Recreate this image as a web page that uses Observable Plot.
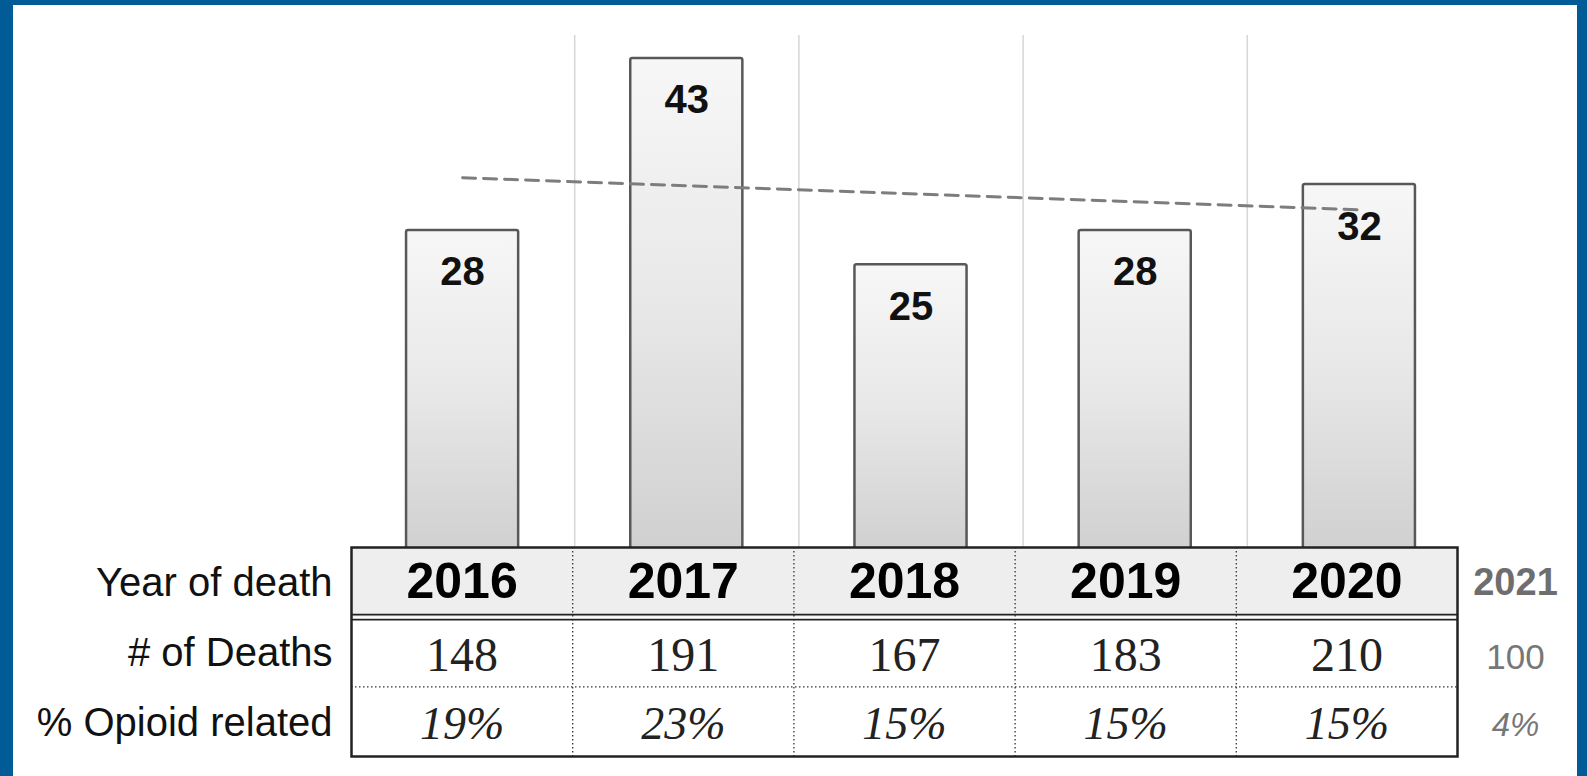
<!DOCTYPE html>
<html><head><meta charset="utf-8">
<script src="https://cdn.jsdelivr.net/npm/d3@7"></script>
<script src="https://cdn.jsdelivr.net/npm/@observablehq/plot@0.6"></script>
<style>
html,body{margin:0;padding:0;width:1587px;height:776px;overflow:hidden;background:#005b96;}
#panel{position:absolute;left:13px;top:5px;width:1564px;height:771px;background:#fff;}
#bars,#table{position:absolute;left:0;}
#bars{top:0;}
#table{top:547px;}
</style></head><body>
<div id="panel"></div>
<div id="bars"></div>
<div id="table"></div>
<script>
// ---- data ----
const years = [2016, 2017, 2018, 2019, 2020];
const opioidDeaths = [28, 43, 25, 28, 32];
const totalDeaths = [148, 191, 167, 183, 210];
const opioidPct = ["19%", "23%", "15%", "15%", "15%"];
const rowLabels = ["Year of death", "# of Deaths", "% Opioid related"];
const partialYear = "2021";
const partialDeaths = "100";
const partialPct = "4%";

const SANS = "'Liberation Sans', Arial, Helvetica, sans-serif";
const SERIF = "'Liberation Serif', 'Times New Roman', serif";

const data = years.map((year, i) => ({year, value: opioidDeaths[i]}));
const xDomain = [d3.min(years) - 0.5, d3.max(years) + 0.5];

// ---- bar chart ----
const bars = Plot.plot({
  width: 1587, height: 551,
  marginTop: 35, marginBottom: 0, marginLeft: 350, marginRight: 116,
  style: {background: "transparent", overflow: "visible"},
  x: {type: "linear", domain: xDomain, axis: null},
  y: {domain: [0, 45], axis: null},
  marks: [
    Plot.ruleX(years.slice(0, -1), {x: d => d + 0.5, stroke: "#d6d6d6", strokeWidth: 1.5}),
    Plot.rectY(data, {x1: d => d.year - 0.25, x2: d => d.year + 0.25, y: "value",
      fill: "url(#barGrad)", stroke: "#585858", strokeWidth: 2.5, rx: 2}),
    Plot.linearRegressionY(data, {x: "year", y: "value", ci: 0, stroke: "#7d7d7d",
      strokeWidth: 3, strokeDasharray: "13,8"}),
    Plot.text(data, {x: "year", y: "value", text: d => String(d.value), lineAnchor: "bottom",
      dy: 55, fontSize: 40, fontWeight: "bold", fontFamily: SANS, fill: "#111"})
  ]
});
const defs = d3.select(bars).insert("defs", ":first-child");
const grad = defs.append("linearGradient").attr("id", "barGrad")
  .attr("x1", 0).attr("y1", 0).attr("x2", 0).attr("y2", 1);
grad.append("stop").attr("offset", "0%").attr("stop-color", "#f7f7f7");
grad.append("stop").attr("offset", "50%").attr("stop-color", "#e8e8e8");
grad.append("stop").attr("offset", "100%").attr("stop-color", "#d0d0d0");
document.getElementById("bars").appendChild(bars);

// ---- table ----
const nRows = rowLabels.length;
const table = Plot.plot({
  width: 1587, height: 229,
  marginTop: 0, marginBottom: 20, marginLeft: 351, marginRight: 130,
  style: {background: "transparent", overflow: "visible"},
  x: {type: "linear", domain: xDomain, axis: null},
  y: {type: "linear", domain: [0, nRows], reverse: true, axis: null},
  marks: [
    Plot.rect(years, {x1: d => d - 0.5, x2: d => d + 0.5, y1: 0, y2: 1, fill: "#eeeeee"}),
    Plot.ruleX(years.slice(1), {x: d => d - 0.5, y1: 0, y2: nRows, stroke: "#333",
      strokeWidth: 1.3, strokeDasharray: "1.5,2.5"}),
    Plot.ruleY([2], {x1: xDomain[0], x2: xDomain[1], stroke: "#333",
      strokeWidth: 1.3, strokeDasharray: "1.5,2.5"}),
    Plot.ruleY([1], {x1: xDomain[0], x2: xDomain[1], dy: -2.5, stroke: "#222", strokeWidth: 1.6}),
    Plot.ruleY([1], {x1: xDomain[0], x2: xDomain[1], dy: 2.5, stroke: "#222", strokeWidth: 1.6}),
    Plot.frame({stroke: "#222", strokeWidth: 2.5}),
    Plot.text(years, {x: d => d, y: 0.5, text: d => String(d), lineAnchor: "bottom", dy: 16,
      fontSize: 50, fontWeight: "bold", fontFamily: SANS, fill: "#000"}),
    Plot.text(years, {x: d => d, y: 1.5, text: (d, i) => String(totalDeaths[i]), lineAnchor: "bottom",
      dy: 18.5, fontSize: 48, fontFamily: SERIF, fill: "#222"}),
    Plot.text(years, {x: d => d, y: 2.5, text: (d, i) => opioidPct[i], lineAnchor: "bottom",
      dy: 17, fontSize: 46, fontStyle: "italic", fontFamily: SERIF, fill: "#222"}),
    Plot.text(rowLabels, {x: xDomain[0], y: (d, i) => i + 0.5, text: d => d, textAnchor: "end",
      lineAnchor: "bottom", dx: -19, dy: 14, fontSize: 40, fontFamily: SANS, fill: "#111"}),
    Plot.text([partialYear], {x: xDomain[1], y: 0.5, dx: 58, dy: 13, lineAnchor: "bottom",
      fontSize: 38, fontWeight: "bold", fontFamily: SANS, fill: "#6e6e6e"}),
    Plot.text([partialDeaths], {x: xDomain[1], y: 1.5, dx: 58, dy: 16.5, lineAnchor: "bottom",
      fontSize: 35, fontFamily: SANS, fill: "#777"}),
    Plot.text([partialPct], {x: xDomain[1], y: 2.5, dx: 58, dy: 14, lineAnchor: "bottom",
      fontSize: 33, fontStyle: "italic", fontFamily: SANS, fill: "#777"})
  ]
});
document.getElementById("table").appendChild(table);
</script>
</body></html>
